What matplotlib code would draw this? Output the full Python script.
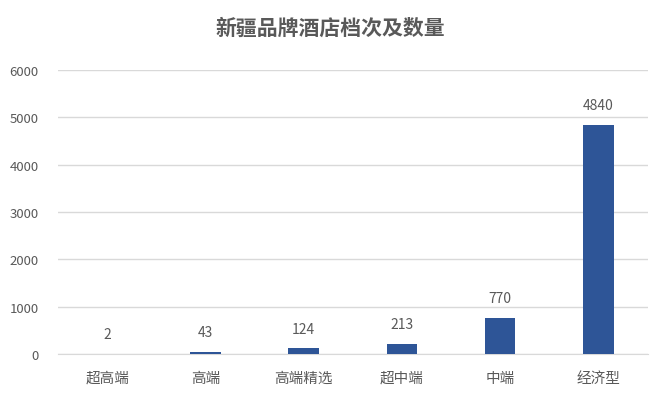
import matplotlib
matplotlib.use("Agg")
import matplotlib.pyplot as plt

plt.rcParams['font.family'] = ['Noto Sans CJK SC', 'DejaVu Sans']

categories = ['超高端', '高端', '高端精选', '超中端', '中端', '经济型']
values = [2, 43, 124, 213, 770, 4840]
yticks = [0, 1000, 2000, 3000, 4000, 5000, 6000]

fig = plt.figure(figsize=(6.61, 4.06), dpi=100)
ax = fig.add_axes([0.0877, 0.1256, 0.892, 0.6994])

bar_color = '#2E5597'
text_color = '#595959'
x = list(range(len(categories)))
bars = ax.bar(x, values, width=0.31, color=bar_color, zorder=3)

for xi, v in zip(x, values):
    ax.annotate(str(v), (xi, v), xytext=(0, 9), textcoords='offset points',
                ha='center', va='bottom', fontsize=10, color=text_color)

ax.set_xlim(-0.5, len(categories) - 0.5)
ax.set_ylim(0, 6000)
ax.set_yticks(yticks)
ax.set_yticklabels([str(t) for t in yticks], fontsize=9.5, color=text_color)
ax.set_xticks(x)
ax.set_xticklabels(categories, fontsize=10.5, color=text_color)
ax.tick_params(axis='both', length=0)
ax.tick_params(axis='x', pad=12)
ax.tick_params(axis='y', pad=14)
ax.grid(axis='y', color='#D9D9D9', linewidth=1, zorder=0)
for s in ['top', 'right', 'left']:
    ax.spines[s].set_visible(False)
ax.spines['bottom'].set_color('#D9D9D9')

fig.text(0.5, 0.93, '新疆品牌酒店档次及数量', ha='center', va='center',
         fontsize=15, fontweight='bold', color=text_color)

fig.savefig('out.png', dpi=100, facecolor='white')
